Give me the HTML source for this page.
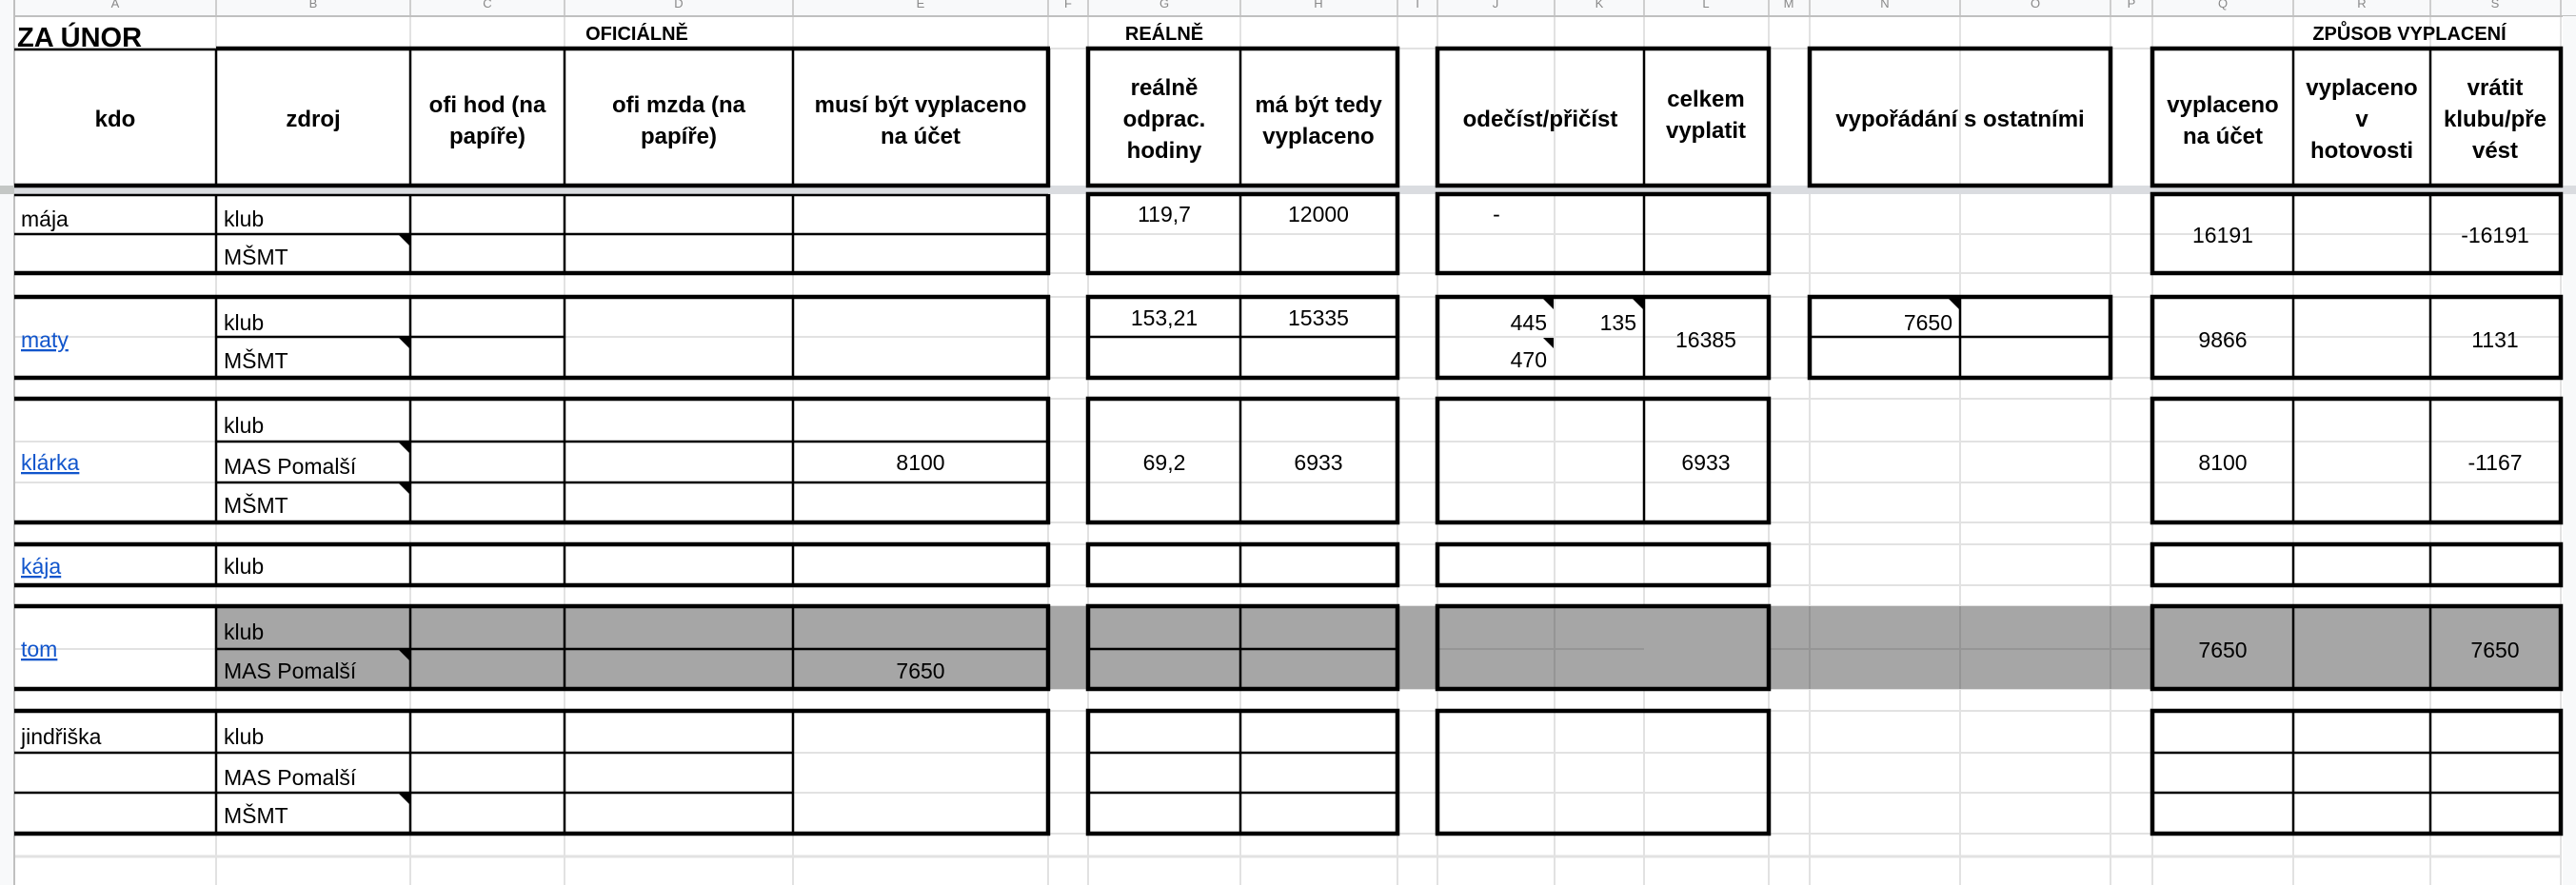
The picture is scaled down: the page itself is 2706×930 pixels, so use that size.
<!DOCTYPE html>
<html><head><meta charset="utf-8"><style>
html,body{margin:0;padding:0;background:#fff;}
svg{display:block;}
text{font-family:"Liberation Sans",sans-serif;font-size:23px;fill:#000;}
.h{font-weight:bold;font-size:24px;text-anchor:middle;}
.c{text-anchor:middle;}
.r{text-anchor:end;}
.l{fill:#1155cc;text-decoration:underline;}
.g{stroke:#e2e2e2;stroke-width:2;}
.k{stroke:#000;stroke-width:4.5;fill:none;}
.t{stroke:#000;stroke-width:2.5;}
.cl{font-size:13px;fill:#888;text-anchor:middle;}
</style></head><body>
<svg width="2706" height="930" xmlns="http://www.w3.org/2000/svg">
<g class="g">
<line x1="15" y1="0" x2="15" y2="930"/><line x1="227" y1="0" x2="227" y2="930"/><line x1="431" y1="0" x2="431" y2="930"/><line x1="593" y1="0" x2="593" y2="930"/><line x1="833" y1="0" x2="833" y2="930"/><line x1="1101" y1="0" x2="1101" y2="930"/><line x1="1143" y1="0" x2="1143" y2="930"/><line x1="1303" y1="0" x2="1303" y2="930"/><line x1="1468" y1="0" x2="1468" y2="930"/><line x1="1510" y1="0" x2="1510" y2="930"/><line x1="1633" y1="0" x2="1633" y2="930"/><line x1="1727" y1="0" x2="1727" y2="930"/><line x1="1858" y1="0" x2="1858" y2="930"/><line x1="1901" y1="0" x2="1901" y2="930"/><line x1="2059" y1="0" x2="2059" y2="930"/><line x1="2217" y1="0" x2="2217" y2="930"/><line x1="2261" y1="0" x2="2261" y2="930"/><line x1="2409" y1="0" x2="2409" y2="930"/><line x1="2553" y1="0" x2="2553" y2="930"/><line x1="2690" y1="0" x2="2690" y2="930"/>
<line x1="0" y1="51" x2="2690" y2="51"/><line x1="0" y1="246" x2="2690" y2="246"/><line x1="0" y1="287" x2="2690" y2="287"/><line x1="0" y1="312" x2="2690" y2="312"/><line x1="0" y1="354" x2="2690" y2="354"/><line x1="0" y1="397" x2="2690" y2="397"/><line x1="0" y1="419" x2="2690" y2="419"/><line x1="0" y1="464" x2="2690" y2="464"/><line x1="0" y1="507" x2="2690" y2="507"/><line x1="0" y1="549" x2="2690" y2="549"/><line x1="0" y1="572" x2="2690" y2="572"/><line x1="0" y1="615" x2="2690" y2="615"/><line x1="0" y1="637" x2="2690" y2="637"/><line x1="0" y1="682" x2="2690" y2="682"/><line x1="0" y1="724" x2="2690" y2="724"/><line x1="0" y1="747" x2="2690" y2="747"/><line x1="0" y1="791" x2="2690" y2="791"/><line x1="0" y1="833" x2="2690" y2="833"/><line x1="0" y1="876" x2="2690" y2="876"/><line x1="0" y1="900" x2="2690" y2="900" style="stroke-width:3"/>
</g>
<rect x="0" y="0" width="2706" height="17" fill="#f8f9fa"/>
<line x1="0" y1="17" x2="2706" y2="17" stroke="#c0c0c0" stroke-width="2"/>
<rect x="0" y="0" width="15" height="930" fill="#f8f9fa"/>
<line x1="15" y1="0" x2="15" y2="930" stroke="#c0c0c0" stroke-width="2"/>
<rect x="2692" y="17" width="14" height="913" fill="#f8f9fa"/>
<g stroke="#c0c0c0" stroke-width="1.5">
<line x1="227" y1="0" x2="227" y2="17"/><line x1="431" y1="0" x2="431" y2="17"/><line x1="593" y1="0" x2="593" y2="17"/><line x1="833" y1="0" x2="833" y2="17"/><line x1="1101" y1="0" x2="1101" y2="17"/><line x1="1143" y1="0" x2="1143" y2="17"/><line x1="1303" y1="0" x2="1303" y2="17"/><line x1="1468" y1="0" x2="1468" y2="17"/><line x1="1510" y1="0" x2="1510" y2="17"/><line x1="1633" y1="0" x2="1633" y2="17"/><line x1="1727" y1="0" x2="1727" y2="17"/><line x1="1858" y1="0" x2="1858" y2="17"/><line x1="1901" y1="0" x2="1901" y2="17"/><line x1="2059" y1="0" x2="2059" y2="17"/><line x1="2217" y1="0" x2="2217" y2="17"/><line x1="2261" y1="0" x2="2261" y2="17"/><line x1="2409" y1="0" x2="2409" y2="17"/><line x1="2553" y1="0" x2="2553" y2="17"/><line x1="2690" y1="0" x2="2690" y2="17"/>
</g>
<g>
<text class="cl" x="121" y="8">A</text><text class="cl" x="329" y="8">B</text><text class="cl" x="512" y="8">C</text><text class="cl" x="713" y="8">D</text><text class="cl" x="967" y="8">E</text><text class="cl" x="1122" y="8">F</text><text class="cl" x="1223" y="8">G</text><text class="cl" x="1385" y="8">H</text><text class="cl" x="1489" y="8">I</text><text class="cl" x="1571" y="8">J</text><text class="cl" x="1680" y="8">K</text><text class="cl" x="1792" y="8">L</text><text class="cl" x="1879" y="8">M</text><text class="cl" x="1980" y="8">N</text><text class="cl" x="2138" y="8">O</text><text class="cl" x="2239" y="8">P</text><text class="cl" x="2335" y="8">Q</text><text class="cl" x="2481" y="8">R</text><text class="cl" x="2621" y="8">S</text>
</g>
<rect x="15" y="195" width="2691" height="9" fill="#dadce0"/>
<rect x="0" y="195" width="15" height="9" fill="#c4c7c5"/>
<rect x="227" y="637" width="2463" height="87" fill="#a6a6a6"/>
<g stroke="#959595" stroke-width="2">
<line x1="1101" y1="637" x2="1101" y2="724"/><line x1="1633" y1="637" x2="1633" y2="724"/><line x1="1901" y1="637" x2="1901" y2="724"/><line x1="2059" y1="637" x2="2059" y2="724"/><line x1="2217" y1="637" x2="2217" y2="724"/><line x1="1510" y1="682" x2="1727" y2="682"/><line x1="1858" y1="682" x2="2261" y2="682"/>
</g>

<line class="t" x1="15" y1="52" x2="227" y2="52"/>
<line class="k" x1="227" y1="51" x2="1103" y2="51"/>
<line class="k" x1="15" y1="195" x2="1103" y2="195"/>
<line class="k" x1="1101" y1="51" x2="1101" y2="197"/>
<g class="t"><line x1="227" y1="51" x2="227" y2="195"/><line x1="431" y1="51" x2="431" y2="195"/><line x1="593" y1="51" x2="593" y2="195"/><line x1="833" y1="51" x2="833" y2="195"/></g>
<g class="t">
<line x1="15" y1="205" x2="1101" y2="205"/>
<line x1="15" y1="246" x2="1101" y2="246"/>
<line x1="227" y1="204" x2="227" y2="287"/><line x1="431" y1="204" x2="431" y2="287"/><line x1="593" y1="204" x2="593" y2="287"/><line x1="833" y1="204" x2="833" y2="287"/>
<line x1="227" y1="354" x2="593" y2="354"/>
<line x1="227" y1="312" x2="227" y2="397"/><line x1="431" y1="312" x2="431" y2="397"/><line x1="593" y1="312" x2="593" y2="397"/><line x1="833" y1="312" x2="833" y2="397"/>
<line x1="227" y1="464" x2="1101" y2="464"/><line x1="227" y1="507" x2="1101" y2="507"/>
<line x1="227" y1="419" x2="227" y2="549"/><line x1="431" y1="419" x2="431" y2="549"/><line x1="593" y1="419" x2="593" y2="549"/><line x1="833" y1="419" x2="833" y2="549"/>
<line x1="227" y1="572" x2="227" y2="615"/><line x1="431" y1="572" x2="431" y2="615"/><line x1="593" y1="572" x2="593" y2="615"/><line x1="833" y1="572" x2="833" y2="615"/>
<line x1="227" y1="682" x2="1101" y2="682"/>
<line x1="227" y1="637" x2="227" y2="724"/><line x1="431" y1="637" x2="431" y2="724"/><line x1="593" y1="637" x2="593" y2="724"/><line x1="833" y1="637" x2="833" y2="724"/>
<line x1="15" y1="791" x2="833" y2="791"/><line x1="15" y1="833" x2="833" y2="833"/>
<line x1="227" y1="747" x2="227" y2="876"/><line x1="431" y1="747" x2="431" y2="876"/><line x1="593" y1="747" x2="593" y2="876"/><line x1="833" y1="747" x2="833" y2="876"/>
</g>
<g class="k">
<line x1="15" y1="287" x2="1103" y2="287"/><line x1="1101" y1="204" x2="1101" y2="289"/>
<line x1="15" y1="312" x2="1103" y2="312"/><line x1="15" y1="397" x2="1103" y2="397"/><line x1="1101" y1="310" x2="1101" y2="399"/>
<line x1="15" y1="419" x2="1103" y2="419"/><line x1="15" y1="549" x2="1103" y2="549"/><line x1="1101" y1="417" x2="1101" y2="551"/>
<line x1="15" y1="572" x2="1103" y2="572"/><line x1="15" y1="615" x2="1103" y2="615"/><line x1="1101" y1="570" x2="1101" y2="617"/>
<line x1="15" y1="637" x2="1103" y2="637"/><line x1="15" y1="724" x2="1103" y2="724"/><line x1="1101" y1="635" x2="1101" y2="726"/>
<line x1="15" y1="747" x2="1103" y2="747"/><line x1="15" y1="876" x2="1103" y2="876"/><line x1="1101" y1="745" x2="1101" y2="878"/>
</g>

<g class="k">
<rect x="1143" y="51" width="325" height="144"/>
<rect x="1143" y="204" width="325" height="83"/>
<rect x="1143" y="312" width="325" height="85"/>
<rect x="1143" y="419" width="325" height="130"/>
<rect x="1143" y="572" width="325" height="43"/>
<rect x="1143" y="637" width="325" height="87"/>
<rect x="1143" y="747" width="325" height="129"/>
</g>
<g class="t">
<line x1="1303" y1="51" x2="1303" y2="195"/><line x1="1303" y1="204" x2="1303" y2="287"/><line x1="1303" y1="312" x2="1303" y2="397"/><line x1="1303" y1="419" x2="1303" y2="549"/><line x1="1303" y1="572" x2="1303" y2="615"/><line x1="1303" y1="637" x2="1303" y2="724"/><line x1="1303" y1="747" x2="1303" y2="876"/>
<line x1="1143" y1="354" x2="1468" y2="354"/><line x1="1143" y1="682" x2="1468" y2="682"/><line x1="1143" y1="791" x2="1468" y2="791"/><line x1="1143" y1="833" x2="1468" y2="833"/>
</g>

<g class="k">
<rect x="1510" y="51" width="348" height="144"/>
<rect x="1510" y="204" width="348" height="83"/>
<rect x="1510" y="312" width="348" height="85"/>
<rect x="1510" y="419" width="348" height="130"/>
<rect x="1510" y="572" width="348" height="43"/>
<rect x="1510" y="637" width="348" height="87"/>
<rect x="1510" y="747" width="348" height="129"/>
</g>
<g class="t">
<line x1="1727" y1="51" x2="1727" y2="195"/><line x1="1727" y1="204" x2="1727" y2="287"/><line x1="1727" y1="312" x2="1727" y2="397"/><line x1="1727" y1="419" x2="1727" y2="549"/>
</g>

<g class="k">
<rect x="1901" y="51" width="316" height="144"/>
<rect x="1901" y="312" width="316" height="85"/>
</g>
<g class="t"><line x1="2059" y1="312" x2="2059" y2="397"/><line x1="1901" y1="354" x2="2217" y2="354"/></g>

<g class="k">
<rect x="2261" y="51" width="429" height="144"/>
<rect x="2261" y="204" width="429" height="83"/>
<rect x="2261" y="312" width="429" height="85"/>
<rect x="2261" y="419" width="429" height="130"/>
<rect x="2261" y="572" width="429" height="43"/>
<rect x="2261" y="637" width="429" height="87"/>
<rect x="2261" y="747" width="429" height="129"/>
</g>
<g class="t">
<line x1="2409" y1="51" x2="2409" y2="195"/><line x1="2553" y1="51" x2="2553" y2="195"/>
<line x1="2409" y1="204" x2="2409" y2="287"/><line x1="2553" y1="204" x2="2553" y2="287"/>
<line x1="2409" y1="312" x2="2409" y2="397"/><line x1="2553" y1="312" x2="2553" y2="397"/>
<line x1="2409" y1="419" x2="2409" y2="549"/><line x1="2553" y1="419" x2="2553" y2="549"/>
<line x1="2409" y1="572" x2="2409" y2="615"/><line x1="2553" y1="572" x2="2553" y2="615"/>
<line x1="2409" y1="637" x2="2409" y2="724"/><line x1="2553" y1="637" x2="2553" y2="724"/>
<line x1="2409" y1="747" x2="2409" y2="876"/><line x1="2553" y1="747" x2="2553" y2="876"/>
<line x1="2261" y1="791" x2="2690" y2="791"/><line x1="2261" y1="833" x2="2690" y2="833"/>
</g>

<g fill="#000">
<polygon points="419,247 430,247 430,258"/>
<polygon points="419,355 430,355 430,366"/>
<polygon points="419,465 430,465 430,476"/>
<polygon points="419,508 430,508 430,519"/>
<polygon points="419,683 430,683 430,694"/>
<polygon points="419,834 430,834 430,845"/>
<polygon points="1621,314 1632,314 1632,325"/>
<polygon points="1715,314 1726,314 1726,325"/>
<polygon points="1621,355 1632,355 1632,366"/>
<polygon points="2047,314 2058,314 2058,325"/>
</g>

<text x="18" y="49" style="font-weight:bold;font-size:29px">ZA ÚNOR</text>
<text class="h" x="669" y="42" style="font-size:20px">OFICIÁLNĚ</text>
<text class="h" x="1223" y="42" style="font-size:20px">REÁLNĚ</text>
<text class="h" x="2531" y="42" style="font-size:20px">ZPŮSOB VYPLACENÍ</text>

<text class="h" x="121" y="133">kdo</text>
<text class="h" x="329" y="133">zdroj</text>
<text class="h" x="512" y="118">ofi hod (na</text><text class="h" x="512" y="151">papíře)</text>
<text class="h" x="713" y="118">ofi mzda (na</text><text class="h" x="713" y="151">papíře)</text>
<text class="h" x="967" y="118">musí být vyplaceno</text><text class="h" x="967" y="151">na účet</text>
<text class="h" x="1223" y="100">reálně</text><text class="h" x="1223" y="133">odprac.</text><text class="h" x="1223" y="166">hodiny</text>
<text class="h" x="1385" y="118">má být tedy</text><text class="h" x="1385" y="151">vyplaceno</text>
<text class="h" x="1618" y="133">odečíst/přičíst</text>
<text class="h" x="1792" y="112">celkem</text><text class="h" x="1792" y="145">vyplatit</text>
<text class="h" x="2059" y="133">vypořádání s ostatními</text>
<text class="h" x="2335" y="118">vyplaceno</text><text class="h" x="2335" y="151">na účet</text>
<text class="h" x="2481" y="100">vyplaceno</text><text class="h" x="2481" y="133">v</text><text class="h" x="2481" y="166">hotovosti</text>
<text class="h" x="2621" y="100">vrátit</text><text class="h" x="2621" y="133">klubu/pře</text><text class="h" x="2621" y="166">vést</text>

<text x="22" y="238">mája</text>
<text x="235" y="238">klub</text><text x="235" y="278">MŠMT</text>
<text class="c" x="1223" y="233">119,7</text><text class="c" x="1385" y="233">12000</text>
<text class="c" x="1572" y="233">-</text>
<text class="c" x="2335" y="255">16191</text><text class="c" x="2621" y="255">-16191</text>
<text class="l" x="22" y="365">maty</text>
<text x="235" y="347">klub</text><text x="235" y="387">MŠMT</text>
<text class="c" x="1223" y="342">153,21</text><text class="c" x="1385" y="342">15335</text>
<text class="r" x="1625" y="347">445</text><text class="r" x="1719" y="347">135</text><text class="r" x="1625" y="386">470</text>
<text class="c" x="1792" y="365">16385</text>
<text class="r" x="2051" y="347">7650</text>
<text class="c" x="2335" y="365">9866</text><text class="c" x="2621" y="365">1131</text>
<text class="l" x="22" y="494">klárka</text>
<text x="235" y="455">klub</text><text x="235" y="498">MAS Pomalší</text><text x="235" y="539">MŠMT</text>
<text class="c" x="967" y="494">8100</text>
<text class="c" x="1223" y="494">69,2</text><text class="c" x="1385" y="494">6933</text>
<text class="c" x="1792" y="494">6933</text>
<text class="c" x="2335" y="494">8100</text><text class="c" x="2621" y="494">-1167</text>
<text class="l" x="22" y="603">kája</text>
<text x="235" y="603">klub</text>
<text class="l" x="22" y="690">tom</text>
<text x="235" y="672">klub</text><text x="235" y="713">MAS Pomalší</text>
<text class="c" x="967" y="713">7650</text>
<text class="c" x="2335" y="691">7650</text><text class="c" x="2621" y="691">7650</text>
<text x="22" y="782">jindřiška</text>
<text x="235" y="782">klub</text><text x="235" y="825">MAS Pomalší</text><text x="235" y="865">MŠMT</text>
</svg>
</body></html>
